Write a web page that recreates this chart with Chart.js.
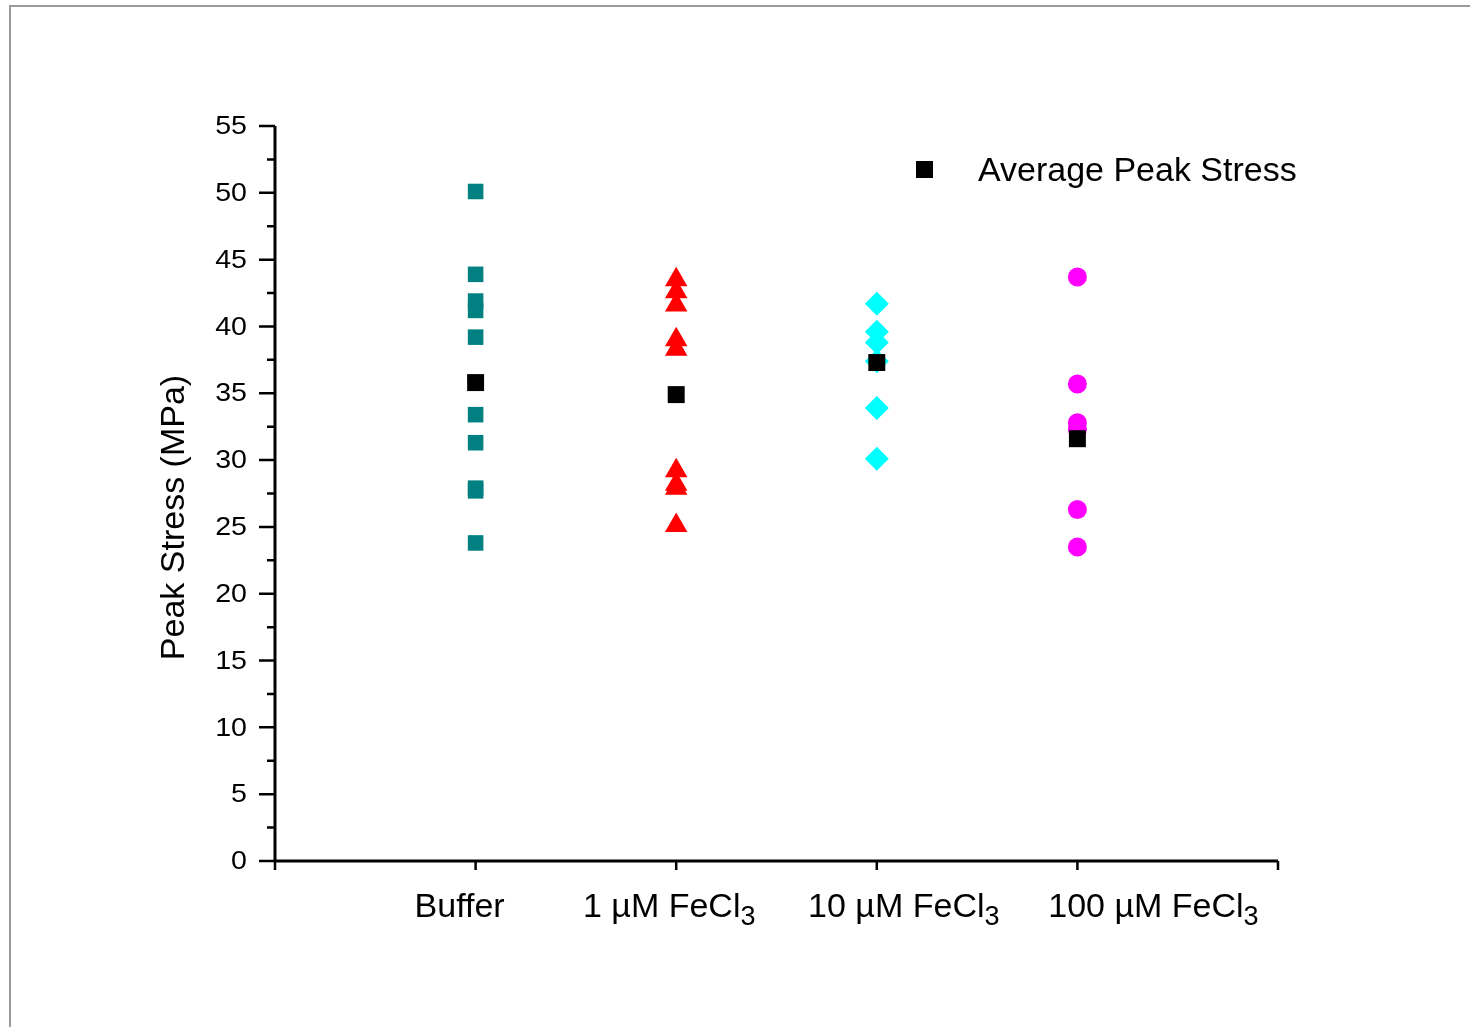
<!DOCTYPE html>
<html>
<head>
<meta charset="utf-8">
<script src="https://cdn.jsdelivr.net/npm/chart.js@4.4.0/dist/chart.umd.min.js"></script>
<style>
  html, body { margin: 0; padding: 0; background: #fff; }
  canvas { display: block; }
</style>
</head>
<body>
<canvas id="stressChart" width="1470" height="1027"></canvas>
<script>
// categories (x = 1..4) and label parts (main text + subscript)
const categories = [1, 2, 3, 4];
const labelMain = ['Buffer', '1 µM FeCl', '10 µM FeCl', '100 µM FeCl'];
const labelSub = ['', '3', '3', '3'];

// peak stress readings, MPa
const bufferStress = [50.1, 43.9, 41.9, 41.2, 39.2, 33.4, 31.3, 27.9, 27.7, 23.8];
const fe1Stress = [43.5, 42.6, 41.6, 39.0, 38.3, 29.2, 28.2, 27.9, 25.1];
const fe10Stress = [41.7, 39.6, 38.8, 37.4, 33.9, 30.1];
const fe100Stress = [43.7, 35.7, 32.8, 32.3, 26.3, 23.5];
const averageStress = [35.8, 34.9, 37.3, 31.6];

const yTicks = [0, 5, 10, 15, 20, 25, 30, 35, 40, 45, 50, 55];
const xTicks = [0, 1, 2, 3, 4, 5];

// small shifts Origin gave the category labels
const xLabelShift = [-16, -7, 27, 76];

function pts(x, arr) {
    return arr.map(function (v) { return { x: x, y: v }; });
}

const FONT = '"Liberation Sans", Arial, sans-serif';

// text drawn slightly widened, like the Origin export
function wideText(ctx, text, x, y, sx) {
    ctx.save();
    ctx.translate(x, y);
    ctx.scale(sx, 1);
    ctx.fillText(text, 0, 0);
    ctx.restore();
}

const originAxes = {
    id: 'originAxes',
    beforeDraw: function (chart) {
        const ctx = chart.ctx;
        // slide frame
        ctx.save();
        ctx.strokeStyle = '#9a9a9a';
        ctx.lineWidth = 2;
        ctx.beginPath();
        ctx.moveTo(1470, 6);
        ctx.lineTo(10, 6);
        ctx.lineTo(10, 1027);
        ctx.stroke();
        ctx.restore();
    },
    afterDraw: function (chart) {
        const ctx = chart.ctx;
        const xs = chart.scales.x;
        const ys = chart.scales.y;
        const area = chart.chartArea;
        ctx.save();
        ctx.strokeStyle = '#000';
        ctx.fillStyle = '#000';
        ctx.lineWidth = 3;
        ctx.lineCap = 'butt';

        // axis lines
        ctx.beginPath();
        ctx.moveTo(area.left, area.top);
        ctx.lineTo(area.left, area.bottom + 1.5);
        ctx.moveTo(area.left - 1.5, area.bottom);
        ctx.lineTo(area.right, area.bottom);
        ctx.stroke();

        // y ticks: majors every 5, minors in between
        ctx.lineWidth = 2.5;
        ctx.beginPath();
        for (let v = 0; v <= 55; v += 2.5) {
            const py = ys.getPixelForValue(v);
            const len = (v % 5 === 0) ? 16 : 8;
            ctx.moveTo(area.left - len, py);
            ctx.lineTo(area.left, py);
        }
        // x ticks
        xTicks.forEach(function (t) {
            const px = xs.getPixelForValue(t);
            ctx.moveTo(px, area.bottom);
            ctx.lineTo(px, area.bottom + 9);
        });
        ctx.stroke();

        // y tick labels
        ctx.font = '26px ' + FONT;
        ctx.textAlign = 'right';
        ctx.textBaseline = 'middle';
        yTicks.forEach(function (t) {
            wideText(ctx, String(t), area.left - 28, ys.getPixelForValue(t) + 1, 1.1);
        });

        // x category labels with subscript
        ctx.textBaseline = 'alphabetic';
        ctx.textAlign = 'left';
        categories.forEach(function (c, i) {
            ctx.font = '34px ' + FONT;
            const wMain = ctx.measureText(labelMain[i]).width;
            ctx.font = '27px ' + FONT;
            const wSub = labelSub[i] ? ctx.measureText(labelSub[i]).width : 0;
            const left = xs.getPixelForValue(c) + xLabelShift[i] - (wMain + wSub) / 2;
            const base = area.bottom + 56;
            ctx.font = '34px ' + FONT;
            ctx.fillText(labelMain[i], left, base);
            if (labelSub[i]) {
                ctx.font = '27px ' + FONT;
                ctx.fillText(labelSub[i], left + wMain, base + 8);
            }
        });

        // y title
        ctx.save();
        ctx.translate(area.left - 100, (area.top + area.bottom) / 2 + 24);
        ctx.rotate(-Math.PI / 2);
        ctx.font = '34px ' + FONT;
        ctx.textAlign = 'center';
        ctx.textBaseline = 'middle';
        ctx.fillText('Peak Stress (MPa)', 0, 0);
        ctx.restore();

        // legend
        ctx.fillRect(916, 161, 17, 17);
        ctx.font = '33px ' + FONT;
        ctx.textAlign = 'left';
        ctx.textBaseline = 'middle';
        wideText(ctx, 'Average Peak Stress', 978, 172, 1.03);
        ctx.restore();
    }
};

const ctx = document.getElementById('stressChart');
new Chart(ctx.getContext('2d'), {
    type: 'scatter',
    data: {
        datasets: [
            {
                label: 'Average Peak Stress',
                data: categories.map(function (c, i) { return { x: c, y: averageStress[i] }; }),
                pointStyle: 'rect', pointRadius: 12,
                backgroundColor: '#000000', borderColor: '#000000', borderWidth: 0,
                order: 0
            },
            {
                label: 'Buffer',
                data: pts(1, bufferStress),
                pointStyle: 'rect', pointRadius: 11,
                backgroundColor: '#008080', borderColor: '#008080', borderWidth: 0,
                order: 1
            },
            {
                label: '1 µM FeCl3',
                data: pts(2, fe1Stress),
                pointStyle: 'triangle', pointRadius: 13,
                backgroundColor: '#ff0000', borderColor: '#ff0000', borderWidth: 0,
                order: 1
            },
            {
                label: '10 µM FeCl3',
                data: pts(3, fe10Stress),
                pointStyle: 'rectRot', pointRadius: 12,
                backgroundColor: '#00ffff', borderColor: '#00ffff', borderWidth: 0,
                order: 1
            },
            {
                label: '100 µM FeCl3',
                data: pts(4, fe100Stress),
                pointStyle: 'circle', pointRadius: 9.5,
                backgroundColor: '#ff00ff', borderColor: '#ff00ff', borderWidth: 0,
                order: 1
            }
        ]
    },
    options: {
        responsive: false,
        animation: false,
        layout: { padding: { left: 275, right: 192, top: 126, bottom: 166 } },
        scales: {
            x: { type: 'linear', min: 0, max: 5, display: false },
            y: { type: 'linear', min: 0, max: 55, display: false }
        },
        plugins: {
            legend: { display: false },
            tooltip: { enabled: false }
        }
    },
    plugins: [originAxes]
});
</script>
</body>
</html>
